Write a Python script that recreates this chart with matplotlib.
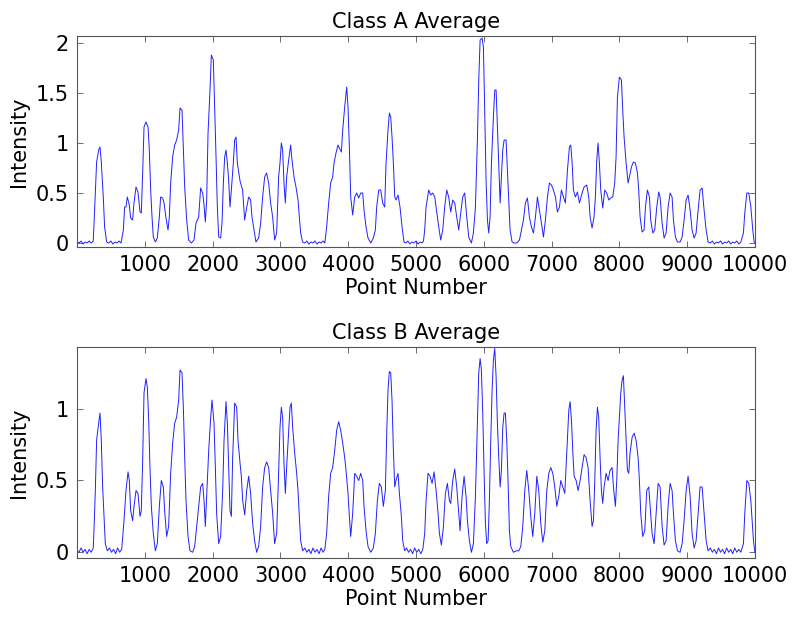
import matplotlib
matplotlib.use('Agg')
import matplotlib.pyplot as plt

# (point number, intensity)
class_a_trace = [
    (1, 0.01), (30, 0.0), (60, 0.02), (90, -0.01), (120, 0.01), (150, 0.0), (180, 0.02), (210, 0.0), (240, 0.02),
    (251, 0.18), (290, 0.81), (320, 0.93), (340, 0.96), (359, 0.81), (389, 0.45), (408, 0.16), (438, 0.01),
    (470, 0.0), (500, 0.02), (530, -0.01), (560, 0.01), (590, 0.0), (620, 0.02), (650, 0.0), (684, 0.13),
    (703, 0.36), (723, 0.36), (743, 0.46), (772, 0.38), (792, 0.25), (821, 0.23), (841, 0.40), (871, 0.56),
    (900, 0.51), (930, 0.31), (949, 0.30), (969, 0.70), (989, 1.16), (1018, 1.21), (1048, 1.16), (1067, 0.93),
    (1087, 0.53), (1107, 0.26), (1126, 0.06), (1156, 0.01), (1185, 0.05), (1215, 0.26), (1234, 0.46), (1264, 0.45),
    (1284, 0.40), (1313, 0.25), (1343, 0.13), (1362, 0.26), (1382, 0.60), (1411, 0.86), (1441, 0.98), (1470, 1.03),
    (1500, 1.13), (1520, 1.35), (1549, 1.33), (1569, 0.96), (1589, 0.56), (1618, 0.23), (1647, 0.03), (1687, 0.0),
    (1726, 0.03), (1756, 0.20), (1795, 0.26), (1824, 0.55), (1854, 0.50), (1874, 0.38), (1893, 0.21), (1913, 0.43),
    (1933, 1.10), (1962, 1.53), (1982, 1.88), (2011, 1.83), (2031, 1.36), (2051, 0.86), (2070, 0.36), (2090, 0.06),
    (2119, 0.05), (2139, 0.20), (2159, 0.60), (2178, 0.86), (2198, 0.93), (2218, 0.80), (2237, 0.63), (2257, 0.36),
    (2277, 0.53), (2306, 0.80), (2326, 1.03), (2346, 1.06), (2365, 0.80), (2405, 0.62), (2443, 0.53), (2473, 0.23),
    (2502, 0.35), (2532, 0.46), (2561, 0.43), (2581, 0.26), (2611, 0.13), (2640, 0.01), (2679, 0.05), (2709, 0.20),
    (2738, 0.46), (2768, 0.66), (2797, 0.70), (2827, 0.60), (2856, 0.40), (2886, 0.26), (2915, 0.03), (2945, 0.10),
    (2974, 0.66), (2994, 0.80), (3014, 1.0), (3033, 0.93), (3053, 0.60), (3073, 0.40), (3092, 0.66), (3122, 0.83),
    (3151, 0.98), (3171, 0.83), (3201, 0.66), (3230, 0.56), (3260, 0.43), (3279, 0.26), (3299, 0.10), (3328, 0.01),
    (3360, 0.0), (3390, 0.02), (3420, -0.01), (3450, 0.01), (3480, 0.0), (3510, 0.02), (3540, -0.01), (3570, 0.01),
    (3600, 0.0), (3630, 0.02), (3655, 0.0),
    (3682, 0.16), (3712, 0.40), (3741, 0.60), (3771, 0.66), (3791, 0.80), (3820, 0.90), (3850, 0.98), (3869, 0.95),
    (3899, 0.91), (3919, 1.13), (3948, 1.36), (3978, 1.56), (3997, 1.36), (4017, 0.96), (4037, 0.46), (4066, 0.28),
    (4096, 0.46), (4125, 0.50), (4155, 0.45), (4184, 0.50), (4214, 0.50), (4233, 0.33), (4263, 0.16), (4292, 0.05),
    (4332, 0.0), (4371, 0.05), (4400, 0.13), (4420, 0.36), (4450, 0.53), (4479, 0.53), (4509, 0.40), (4538, 0.36),
    (4558, 0.80), (4587, 1.13), (4607, 1.30), (4627, 1.26), (4646, 1.06), (4666, 0.80), (4686, 0.46), (4705, 0.43),
    (4735, 0.48), (4764, 0.36), (4794, 0.16), (4823, 0.01),
    (4850, 0.0), (4880, 0.02), (4910, -0.01), (4940, 0.01), (4970, 0.0), (5000, 0.02), (5030, -0.01), (5060, 0.01),
    (5090, 0.0), (5110, 0.02),
    (5128, 0.13), (5148, 0.36), (5187, 0.53), (5217, 0.48), (5246, 0.50), (5276, 0.46), (5305, 0.31), (5335, 0.16),
    (5364, 0.03), (5394, 0.13), (5423, 0.36), (5453, 0.53), (5482, 0.46), (5512, 0.31), (5541, 0.43), (5571, 0.40),
    (5600, 0.26), (5630, 0.13), (5659, 0.30), (5689, 0.46), (5718, 0.50), (5748, 0.26), (5777, 0.06), (5817, 0.0),
    (5846, 0.10), (5876, 0.36), (5905, 1.03), (5925, 1.63), (5945, 2.03), (5974, 2.05), (5994, 1.96), (6013, 1.30),
    (6033, 0.63), (6053, 0.23), (6072, 0.10), (6092, 0.26), (6112, 0.80), (6141, 1.26), (6161, 1.53), (6181, 1.53),
    (6200, 1.16), (6220, 0.80), (6240, 0.40), (6259, 0.66), (6279, 0.93), (6299, 1.03), (6328, 1.03), (6348, 0.73),
    (6367, 0.43), (6387, 0.13), (6417, 0.01), (6446, 0.0), (6485, 0.0), (6525, 0.03), (6554, 0.13), (6584, 0.23),
    (6613, 0.40), (6643, 0.45), (6672, 0.26), (6702, 0.16), (6731, 0.10), (6761, 0.26), (6790, 0.46), (6820, 0.33),
    (6849, 0.20), (6879, 0.06), (6908, 0.23), (6938, 0.46), (6967, 0.60), (6997, 0.58), (7026, 0.53), (7056, 0.46),
    (7085, 0.31), (7115, 0.36), (7144, 0.53), (7174, 0.46), (7203, 0.40), (7233, 0.73), (7262, 0.96), (7282, 0.98),
    (7302, 0.80), (7321, 0.53), (7351, 0.46), (7380, 0.51), (7410, 0.40), (7449, 0.50), (7478, 0.56), (7517, 0.58),
    (7547, 0.46), (7567, 0.26), (7596, 0.15), (7625, 0.26), (7645, 0.46), (7665, 0.83), (7684, 1.0), (7704, 0.80),
    (7724, 0.53), (7753, 0.35), (7783, 0.53), (7812, 0.50), (7842, 0.43), (7871, 0.45), (7901, 0.46), (7930, 0.60),
    (7950, 0.86), (7970, 1.46), (7999, 1.66), (8029, 1.63), (8048, 1.33), (8068, 1.06), (8098, 0.80), (8127, 0.60),
    (8147, 0.66), (8176, 0.76), (8206, 0.81), (8235, 0.80), (8265, 0.70), (8284, 0.53), (8304, 0.26), (8334, 0.11),
    (8363, 0.13), (8383, 0.36), (8412, 0.53), (8442, 0.46), (8461, 0.23), (8491, 0.10), (8520, 0.13), (8550, 0.36),
    (8579, 0.51), (8599, 0.46), (8629, 0.20), (8658, 0.05), (8688, 0.10), (8717, 0.36), (8747, 0.50), (8776, 0.46),
    (8796, 0.23), (8825, 0.06), (8855, 0.01), (8894, 0.01), (8924, 0.06), (8953, 0.23), (8983, 0.43), (9012, 0.48),
    (9042, 0.33), (9071, 0.13), (9101, 0.05), (9130, 0.10), (9160, 0.33), (9189, 0.53), (9219, 0.55), (9248, 0.33),
    (9278, 0.13), (9307, 0.01),
    (9340, 0.0), (9370, 0.02), (9400, -0.01), (9430, 0.01), (9460, 0.0), (9490, 0.02), (9520, -0.01), (9550, 0.01),
    (9580, 0.0), (9610, 0.02), (9640, -0.01), (9670, 0.01), (9700, 0.0), (9730, 0.02), (9760, -0.01), (9790, 0.01),
    (9828, 0.10), (9848, 0.30), (9878, 0.50), (9907, 0.50), (9937, 0.36), (9966, 0.13), (9986, 0.01), (10000, 0.0),
]

class_b_trace = [
    (1, 0.01), (30, 0.0), (60, 0.03), (90, 0.0), (120, 0.02), (150, -0.01), (180, 0.02), (210, 0.0), (240, 0.03),
    (251, 0.15), (271, 0.43), (290, 0.78), (320, 0.90), (340, 0.97), (359, 0.78), (379, 0.455), (399, 0.25),
    (418, 0.06), (448, 0.01),
    (480, 0.03), (510, 0.0), (540, 0.02), (570, -0.01), (600, 0.03), (630, 0.0), (660, 0.02),
    (694, 0.22), (723, 0.43), (753, 0.56), (772, 0.50), (792, 0.29), (821, 0.22), (841, 0.32), (871, 0.43),
    (900, 0.41), (930, 0.25), (949, 0.29), (969, 0.64), (989, 1.11), (1018, 1.21), (1038, 1.15), (1058, 0.92),
    (1077, 0.59), (1097, 0.32), (1126, 0.13), (1156, 0.01), (1185, 0.06), (1215, 0.32), (1244, 0.50), (1274, 0.455),
    (1293, 0.29), (1323, 0.11), (1352, 0.18), (1382, 0.55), (1411, 0.76), (1441, 0.90), (1470, 0.94), (1500, 1.06),
    (1520, 1.27), (1549, 1.25), (1569, 1.01), (1589, 0.66), (1608, 0.36), (1638, 0.11), (1667, 0.01), (1707, 0.0),
    (1736, 0.04), (1766, 0.18), (1795, 0.32), (1824, 0.455), (1854, 0.48), (1874, 0.36), (1893, 0.18), (1913, 0.39),
    (1943, 0.71), (1972, 0.94), (1992, 1.06), (2021, 0.90), (2041, 0.59), (2060, 0.27), (2090, 0.06), (2119, 0.11),
    (2149, 0.43), (2169, 0.78), (2198, 1.05), (2218, 0.90), (2237, 0.59), (2257, 0.29), (2277, 0.25), (2296, 0.66),
    (2326, 1.04), (2356, 1.01), (2375, 0.78), (2405, 0.62), (2424, 0.53), (2444, 0.36), (2474, 0.26), (2503, 0.43),
    (2532, 0.53), (2561, 0.41), (2591, 0.20), (2620, 0.08), (2650, 0.0), (2679, 0.04), (2709, 0.18), (2738, 0.455),
    (2768, 0.59), (2797, 0.63), (2827, 0.59), (2856, 0.43), (2886, 0.27), (2915, 0.06), (2945, 0.13), (2974, 0.55),
    (2994, 0.87), (3014, 1.01), (3033, 0.94), (3053, 0.62), (3073, 0.41), (3092, 0.59), (3122, 0.85), (3142, 1.01),
    (3161, 1.04), (3181, 0.87), (3211, 0.69), (3240, 0.55), (3260, 0.43), (3279, 0.25), (3299, 0.08), (3328, 0.01),
    (3360, 0.03), (3390, 0.0), (3420, 0.02), (3450, -0.01), (3480, 0.03), (3510, 0.0), (3540, 0.02), (3570, -0.01),
    (3600, 0.03), (3630, 0.0), (3655, 0.02),
    (3682, 0.13), (3712, 0.39), (3741, 0.55), (3771, 0.59), (3801, 0.71), (3830, 0.85), (3860, 0.91), (3889, 0.85),
    (3919, 0.76), (3948, 0.66), (3968, 0.57), (3997, 0.41), (4017, 0.25), (4037, 0.11), (4066, 0.27), (4096, 0.55),
    (4125, 0.53), (4155, 0.50), (4184, 0.55), (4214, 0.50), (4233, 0.32), (4263, 0.15), (4292, 0.04), (4332, 0.0),
    (4371, 0.03), (4400, 0.13), (4430, 0.36), (4459, 0.48), (4489, 0.455), (4518, 0.32), (4548, 0.43), (4568, 0.83),
    (4587, 1.13), (4607, 1.26), (4627, 1.25), (4646, 1.06), (4666, 0.71), (4686, 0.455), (4705, 0.50), (4735, 0.55),
    (4755, 0.41), (4784, 0.25), (4804, 0.08), (4833, 0.01),
    (4860, 0.03), (4890, 0.0), (4920, 0.02), (4950, -0.01), (4980, 0.03), (5010, 0.0), (5040, 0.02), (5070, -0.01),
    (5100, 0.02),
    (5128, 0.13), (5148, 0.36), (5177, 0.55), (5207, 0.53), (5237, 0.48), (5266, 0.56), (5296, 0.43), (5325, 0.27),
    (5345, 0.13), (5374, 0.05), (5404, 0.18), (5433, 0.41), (5463, 0.48), (5492, 0.36), (5512, 0.34), (5541, 0.50),
    (5571, 0.58), (5600, 0.455), (5630, 0.27), (5650, 0.15), (5679, 0.39), (5709, 0.53), (5738, 0.39), (5758, 0.22),
    (5787, 0.08), (5817, 0.0), (5846, 0.06), (5876, 0.39), (5905, 0.90), (5925, 1.25), (5945, 1.35), (5964, 1.27),
    (5984, 0.97), (6004, 0.55), (6023, 0.20), (6043, 0.06), (6063, 0.08), (6082, 0.36), (6102, 0.78), (6122, 1.13),
    (6141, 1.34), (6161, 1.42), (6181, 1.22), (6200, 0.90), (6220, 0.66), (6240, 0.455), (6259, 0.57), (6279, 0.87),
    (6299, 0.97), (6318, 0.97), (6338, 0.78), (6358, 0.48), (6377, 0.15), (6397, 0.04), (6436, 0.0), (6476, 0.01),
    (6515, 0.01), (6545, 0.04), (6574, 0.18), (6604, 0.43), (6633, 0.57), (6663, 0.43), (6692, 0.25), (6721, 0.11),
    (6751, 0.27), (6781, 0.53), (6810, 0.43), (6840, 0.20), (6869, 0.07), (6899, 0.15), (6928, 0.43), (6958, 0.55),
    (6987, 0.59), (7017, 0.55), (7046, 0.455), (7076, 0.32), (7105, 0.39), (7135, 0.50), (7164, 0.455), (7194, 0.41),
    (7223, 0.69), (7253, 0.99), (7272, 1.05), (7292, 0.92), (7311, 0.71), (7331, 0.53), (7361, 0.50), (7390, 0.43),
    (7420, 0.50), (7449, 0.59), (7478, 0.68), (7508, 0.66), (7537, 0.59), (7567, 0.36), (7596, 0.18), (7616, 0.22),
    (7635, 0.48), (7655, 0.85), (7675, 1.01), (7694, 0.94), (7714, 0.66), (7734, 0.43), (7753, 0.34), (7773, 0.455),
    (7803, 0.55), (7832, 0.50), (7861, 0.57), (7891, 0.59), (7911, 0.455), (7940, 0.32), (7960, 0.50), (7980, 0.78),
    (7999, 0.94), (8019, 1.11), (8039, 1.20), (8058, 1.23), (8078, 1.01), (8098, 0.78), (8117, 0.57), (8137, 0.55),
    (8156, 0.69), (8186, 0.80), (8216, 0.83), (8245, 0.78), (8275, 0.66), (8294, 0.50), (8314, 0.27), (8343, 0.11),
    (8373, 0.15), (8402, 0.43), (8432, 0.455), (8452, 0.32), (8481, 0.13), (8511, 0.06), (8540, 0.27), (8570, 0.48),
    (8599, 0.455), (8629, 0.18), (8658, 0.05), (8688, 0.08), (8717, 0.32), (8747, 0.48), (8776, 0.43), (8796, 0.27),
    (8825, 0.08), (8855, 0.01), (8894, 0.0), (8924, 0.06), (8953, 0.22), (8983, 0.43), (9012, 0.53), (9042, 0.39),
    (9071, 0.13), (9101, 0.03), (9130, 0.08), (9160, 0.27), (9189, 0.455), (9219, 0.455), (9248, 0.27), (9278, 0.08),
    (9307, 0.01),
    (9340, 0.03), (9370, 0.0), (9400, 0.02), (9430, -0.01), (9460, 0.03), (9490, 0.0), (9520, 0.02), (9550, -0.01),
    (9580, 0.03), (9610, 0.0), (9640, 0.02), (9670, -0.01), (9700, 0.03), (9730, 0.0), (9760, 0.02), (9790, 0.0),
    (9828, 0.06), (9848, 0.27), (9878, 0.50), (9907, 0.48), (9937, 0.36), (9956, 0.22), (9976, 0.08), (9996, 0.0),
]

x_ticks = [1000, 2000, 3000, 4000, 5000, 6000, 7000, 8000, 9000, 10000]
a_yticks = [0, 0.5, 1, 1.5, 2]
b_yticks = [0, 0.5, 1]

plt.rcParams['font.family'] = ['DejaVu Sans']
fs = 15

fig = plt.figure(figsize=(7.94, 6.2), dpi=100)
ax_a = fig.add_axes([0.097, 0.6016, 0.854, 0.3403])
ax_b = fig.add_axes([0.097, 0.100, 0.854, 0.3403])


def draw_panel(ax, trace, title, yticks, ylim):
    xs = [p[0] for p in trace]
    ys = [p[1] for p in trace]
    ax.plot(xs, ys, color='#2020ff', linewidth=0.7)
    ax.set_xlim(1, 10000)
    ax.set_ylim(*ylim)
    ax.set_xticks(x_ticks)
    ax.set_xticklabels([str(t) for t in x_ticks])
    ax.set_yticks(yticks)
    ax.set_yticklabels([f'{t:g}' for t in yticks])
    ax.tick_params(direction='in', length=4, width=0.6, color='#555555',
                   top=True, right=True, labelsize=fs, pad=6)
    for s in ax.spines.values():
        s.set_color('#555555')
        s.set_linewidth(0.8)
    ax.set_title(title, fontsize=fs, pad=6)
    ax.set_xlabel('Point Number', fontsize=fs, labelpad=2)
    ax.set_ylabel('Intensity', fontsize=fs, labelpad=5)


draw_panel(ax_a, class_a_trace, 'Class A Average', a_yticks, (-0.04, 2.07))
draw_panel(ax_b, class_b_trace, 'Class B Average', b_yticks, (-0.04, 1.43))

fig.savefig('out.png', dpi=100)
